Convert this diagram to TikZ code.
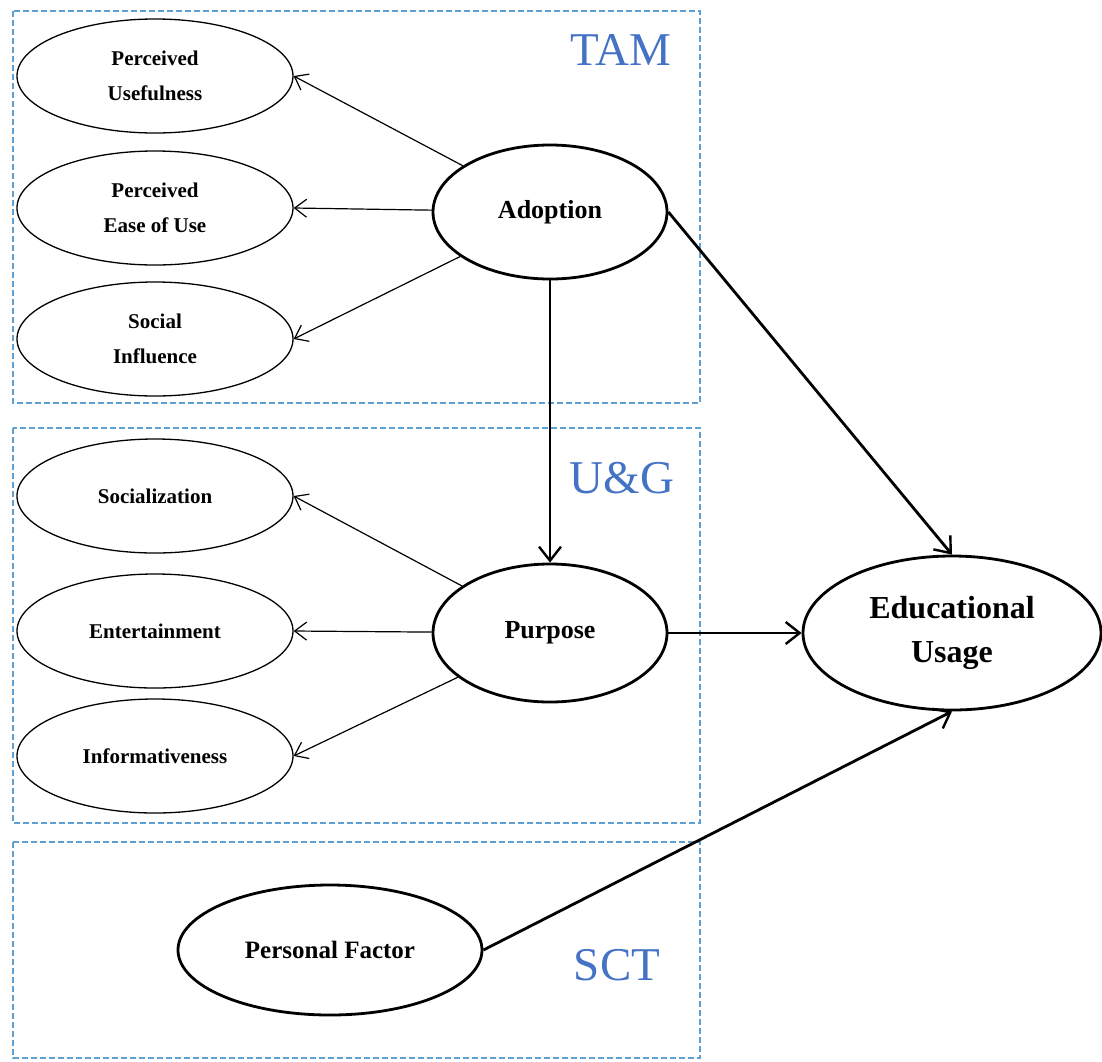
\documentclass[tikz,border=0pt]{standalone}
\usepackage{fontspec}
\setmainfont{Liberation Serif}
\usetikzlibrary{shapes.geometric,arrows.meta}
\definecolor{boxblue}{RGB}{95,160,210}
\definecolor{labblue}{RGB}{68,114,196}
\tikzset{
  smallell/.style={ellipse,draw,line width=1.3pt,inner sep=0pt,minimum width=276pt,minimum height=114pt,align=center,font=\bfseries\fontsize{21}{35}\selectfont},
  bigell/.style={ellipse,draw,line width=2.8pt,inner sep=0pt,align=center},
  thinarr/.style={line width=1.2pt,-{Straight Barb[length=12pt,width=18pt,line width=1.2pt]}},
  thickarr/.style={line width=2.8pt,-{Straight Barb[length=14pt,width=22pt,line width=2.4pt]}},
  framebox/.style={draw=boxblue,line width=1.3pt,dash pattern=on 6pt off 3pt},
  modlab/.style={text=labblue,font=\fontsize{47}{50}\selectfont}
}
\begin{document}
\begin{tikzpicture}[x=1pt,y=-1pt]
\useasboundingbox (0,0) rectangle (1102,1061);
\draw[framebox] (13,11) rectangle (700,403);
\draw[framebox] (13,428) rectangle (700,823);
\draw[framebox] (13,842) rectangle (700,1058);
\node[modlab] (tam) at (621,50) {TAM};
\node[modlab] (ug) at (622,478) {U\&G};
\node[modlab] (sct) at (617,965) {SCT};

\node[smallell] (pu) at (155,76) {Perceived\\Usefulness};
\node[smallell] (peou) at (155,208) {Perceived\\Ease of Use};
\node[smallell] (si) at (155,339) {Social\\Influence};
\node[smallell] (soc) at (155,496) {Socialization};
\node[smallell] (ent) at (155,631) {Entertainment};
\node[smallell] (inf) at (155,756) {Informativeness};

\node[bigell,minimum width=234pt,minimum height=134pt,font=\bfseries\fontsize{26}{30}\selectfont] (ad) at (550,212) {Adoption};
\node[bigell,minimum width=234pt,minimum height=138pt,font=\bfseries\fontsize{26}{30}\selectfont] (pur) at (550,633) {Purpose};
\node[bigell,minimum width=298pt,minimum height=154pt,font=\bfseries\fontsize{32}{44}\selectfont] (eu) at (952,633) {Educational\\Usage};
\node[bigell,minimum width=304pt,minimum height=130pt,font=\bfseries\fontsize{25}{30}\selectfont] (pf) at (330,950) {Personal Factor};

\draw[thinarr] (ad) -- (pu.east);
\draw[thinarr] (ad) -- (peou.east);
\draw[thinarr] (ad) -- (si.east);
\draw[thinarr] (pur) -- (soc.east);
\draw[thinarr] (pur) -- (ent.east);
\draw[thinarr] (pur) -- (inf.east);
\draw[thickarr] (ad) -- (pur);
\draw[thickarr] (ad.east) -- (eu.north);
\draw[thickarr] (pur.east) -- (eu.west);
\draw[thickarr] (pf.east) -- (eu.south);
\end{tikzpicture}
\end{document}
